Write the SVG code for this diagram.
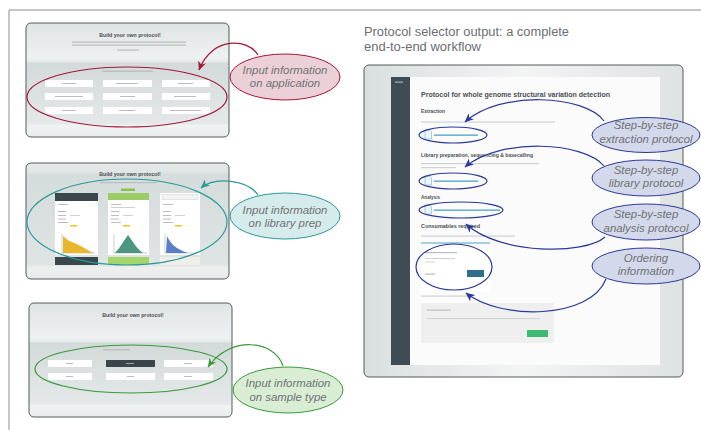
<svg xmlns="http://www.w3.org/2000/svg" width="701" height="430" viewBox="0 0 701 430">
<defs>
<style>
.frame{fill:none;stroke:#8a8c8e;stroke-width:1}
.shot{stroke:#555a5c;stroke-width:1}
.callout{font-family:"Liberation Sans",Arial,sans-serif;font-style:italic;font-size:11.4px;fill:#707275;text-anchor:middle}
.title{font-family:"Liberation Sans",Arial,sans-serif;font-size:12px;fill:#6d6e71}
.ui{font-family:"Liberation Sans",Arial,sans-serif;font-weight:bold;fill:#4a4f52}
.uic{font-family:"Liberation Sans",Arial,sans-serif;font-weight:bold;fill:#4a4f52;text-anchor:middle}
.btn{fill:#ffffff}
.bar{fill:#b9bdbf}
.lbar{fill:#cfd2d3}
.link{fill:#4aa3c8}
.icon{fill:#eef6fa;stroke:#7fbfdc;stroke-width:0.7}
.conn{fill:none;stroke-width:1.2}
.hl{fill:none;stroke-width:1.2}
</style>
<linearGradient id="bgA" x1="0" y1="0" x2="0" y2="1">
<stop offset="0" stop-color="#dfe4e4"/>
<stop offset="0.3" stop-color="#eef1f1"/>
<stop offset="0.34" stop-color="#e6eaea"/>
<stop offset="0.35" stop-color="#d3dada"/>
<stop offset="0.88" stop-color="#e4e8e8"/>
<stop offset="0.9" stop-color="#f1f3f3"/>
<stop offset="1" stop-color="#e9ecec"/>
</linearGradient>
<linearGradient id="bgB" x1="0" y1="0" x2="0" y2="1">
<stop offset="0" stop-color="#e6eaea"/>
<stop offset="0.08" stop-color="#dfe4e4"/>
<stop offset="0.1" stop-color="#d5dcdc"/>
<stop offset="0.88" stop-color="#dfe4e4"/>
<stop offset="0.9" stop-color="#eef0f0"/>
<stop offset="1" stop-color="#e8ebeb"/>
</linearGradient>
<linearGradient id="bgR" x1="0" y1="0" x2="1" y2="0">
<stop offset="0" stop-color="#d9dfdf"/>
<stop offset="0.5" stop-color="#f3f5f5"/>
<stop offset="1" stop-color="#dde2e2"/>
</linearGradient>
<marker id="mRed" markerUnits="userSpaceOnUse" markerWidth="9" markerHeight="8" refX="8.5" refY="4" orient="auto"><path d="M0,0 L9,4 L0,8 L2.5,4 Z" fill="#a4173c"/></marker>
<marker id="mTeal" markerUnits="userSpaceOnUse" markerWidth="9" markerHeight="8" refX="8.5" refY="4" orient="auto"><path d="M0,0 L9,4 L0,8 L2.5,4 Z" fill="#2a9a98"/></marker>
<marker id="mGreen" markerUnits="userSpaceOnUse" markerWidth="9" markerHeight="8" refX="8.5" refY="4" orient="auto"><path d="M0,0 L9,4 L0,8 L2.5,4 Z" fill="#3a9a3a"/></marker>
<marker id="mBlue" markerUnits="userSpaceOnUse" markerWidth="9" markerHeight="8" refX="8.5" refY="4" orient="auto"><path d="M0,0 L9,4 L0,8 L2.5,4 Z" fill="#2b3a9a"/></marker>
</defs>
<rect width="701" height="430" fill="#ffffff"/>
<path class="frame" d="M9,430 V10 H701"/>

<!-- Screenshot 1: application -->
<g id="shot-application">
<rect class="shot" x="26" y="23" width="203" height="114" rx="5" fill="url(#bgA)"/>
<text class="uic" x="130" y="37" font-size="5.2">Build your own protocol!</text>
<rect class="bar" x="72" y="41.5" width="114" height="1.2"/>
<rect class="bar" x="72" y="44.5" width="114" height="1.2"/>
<rect class="bar" x="117" y="49.5" width="22" height="1.2"/>
<rect class="bar" x="102" y="70.5" width="51" height="1.4"/>
<g>
<rect class="btn" x="45" y="80" width="48" height="7"/><rect class="btn" x="103" y="80" width="49" height="7"/><rect class="btn" x="162" y="80" width="48" height="7"/>
<rect class="btn" x="45" y="93" width="48" height="7"/><rect class="btn" x="103" y="93" width="49" height="7"/><rect class="btn" x="162" y="93" width="48" height="7"/>
<rect class="btn" x="45" y="107" width="48" height="7"/><rect class="btn" x="103" y="107" width="49" height="7"/><rect class="btn" x="162" y="107" width="48" height="7"/>
<rect class="bar" x="62" y="83" width="14" height="1"/><rect class="bar" x="116" y="83" width="22" height="1"/><rect class="bar" x="178" y="83" width="15" height="1"/>
<rect class="bar" x="55" y="96" width="28" height="1"/><rect class="bar" x="120" y="96" width="15" height="1"/><rect class="bar" x="174" y="96" width="22" height="1"/>
<rect class="bar" x="62" y="110" width="14" height="1"/><rect class="bar" x="119" y="110" width="16" height="1"/><rect class="bar" x="170" y="110" width="31" height="1"/>
</g>
</g>

<!-- Screenshot 2: library prep -->
<g id="shot-library">
<rect class="shot" x="26" y="163" width="203" height="116" rx="5" fill="url(#bgB)"/>
<text class="uic" x="130" y="176" font-size="5.2">Build your own protocol!</text>
<rect class="bar" x="100" y="182" width="57" height="1.2"/>
<rect x="121" y="188.5" width="14" height="2.5" fill="#8bc34a"/>
<rect x="55" y="193" width="43" height="62" fill="#ffffff"/>
<rect x="55" y="193" width="43" height="8" fill="#3c474c"/>
<rect x="108" y="193" width="41" height="62" fill="#ffffff"/>
<rect x="108" y="193" width="41" height="7" fill="#9ccc65"/>
<rect x="160" y="193" width="40" height="62" fill="#ffffff"/>
<rect x="162" y="194.5" width="36" height="5" fill="#f2f2f2" stroke="#d0d0d0" stroke-width="0.5"/>
<rect class="bar" x="58" y="204" width="10" height="1"/><rect class="bar" x="111" y="204" width="10" height="1"/><rect class="bar" x="163" y="204" width="10" height="1"/>
<rect class="lbar" x="111" y="207" width="24" height="1"/>
<rect class="bar" x="58" y="211" width="8" height="1"/><rect class="bar" x="111" y="211" width="8" height="1"/><rect class="bar" x="163" y="211" width="8" height="1"/>
<rect class="bar" x="58" y="215" width="8" height="1"/><rect class="lbar" x="70" y="215" width="10" height="1"/>
<rect class="bar" x="111" y="215" width="8" height="1"/><rect class="lbar" x="123" y="215" width="10" height="1"/>
<rect class="bar" x="163" y="215" width="8" height="1"/><rect class="lbar" x="175" y="215" width="10" height="1"/>
<rect class="bar" x="58" y="218.5" width="8" height="1"/><rect class="bar" x="111" y="218.5" width="8" height="1"/><rect class="bar" x="163" y="218.5" width="8" height="1"/>
<rect class="bar" x="58" y="222" width="10" height="1"/><rect class="bar" x="111" y="222" width="10" height="1"/><rect class="bar" x="163" y="222" width="10" height="1"/>
<rect x="70" y="225" width="7" height="1.5" fill="#f0c419"/><rect x="123" y="225" width="7" height="1.5" fill="#f0c419"/><rect x="175" y="225" width="7" height="1.5" fill="#f0c419"/>
<path d="M62,234 V253 H95" fill="none" stroke="#9a9a9a" stroke-width="0.5"/>
<path d="M63,253 L63,236 C66,238 68,241 72,242 C78,244 82,247 86,249 L93,253 Z" fill="#e8b72e"/>
<path d="M114,234 V253 H147" fill="none" stroke="#9a9a9a" stroke-width="0.5"/>
<path d="M115,253 C120,248 124,240 128,235 C132,240 136,248 143,253 Z" fill="#4e9682"/>
<path d="M165,234 V253 H197" fill="none" stroke="#9a9a9a" stroke-width="0.5"/>
<path d="M166,253 L167,236 C169,240 172,245 177,248 C181,250 184,252 188,253 Z" fill="#5a7fc2"/>
<rect x="55" y="257" width="43" height="8" fill="#3c474c"/>
<rect x="108" y="257" width="41" height="8" fill="#a5d46a"/>
<rect x="160" y="257" width="40" height="8" fill="#f1eeea"/>
</g>

<!-- Screenshot 3: sample type -->
<g id="shot-sample">
<rect class="shot" x="29" y="303" width="203" height="114" rx="5" fill="url(#bgA)"/>
<text class="uic" x="133" y="317" font-size="5.2">Build your own protocol!</text>
<rect class="bar" x="103" y="349" width="27" height="1.4"/>
<rect class="btn" x="48" y="360" width="44" height="7"/><rect x="106" y="360" width="49" height="7" fill="#3b464b"/><rect class="btn" x="164" y="360" width="49" height="7"/>
<rect class="btn" x="48" y="373" width="44" height="7"/><rect class="btn" x="106" y="373" width="49" height="7"/><rect class="btn" x="164" y="373" width="49" height="7"/>
<rect class="bar" x="66" y="363" width="7" height="1"/><rect x="126" y="363" width="8" height="1" fill="#9aa3a6"/><rect class="bar" x="184" y="363" width="8" height="1"/>
<rect class="bar" x="66" y="376" width="7" height="1"/><rect class="bar" x="127" y="376" width="7" height="1"/><rect class="bar" x="184" y="376" width="8" height="1"/>
</g>

<!-- Right title -->
<g id="output-title">
<text class="title" x="364" y="36" textLength="205" lengthAdjust="spacingAndGlyphs">Protocol selector output: a complete</text>
<text class="title" x="364" y="51" textLength="117" lengthAdjust="spacingAndGlyphs">end-to-end workflow</text>
</g>

<!-- Right screenshot -->
<g id="shot-output">
<rect class="shot" x="364" y="65" width="319" height="312" rx="5" fill="url(#bgR)"/>
<rect x="391" y="77" width="19" height="288" fill="#3e4c54"/>
<rect x="395" y="81.5" width="8" height="1.2" fill="#aab4b8"/>
<rect x="410" y="77" width="250" height="288" fill="#fbfbfb"/>
<text class="ui" x="421" y="97" font-size="7.2" textLength="189" lengthAdjust="spacingAndGlyphs">Protocol for whole genome structural variation detection</text>
<text class="ui" x="421" y="113" font-size="5" textLength="24" lengthAdjust="spacingAndGlyphs">Extraction</text>
<rect class="lbar" x="421" y="121.5" width="134" height="1.2"/>
<path class="icon" d="M425,130 h4.5 l2,2 v7 h-6.5 z"/>
<rect class="link" x="434" y="134.5" width="44" height="1.3"/>
<text class="ui" x="421" y="157" font-size="5" textLength="112" lengthAdjust="spacingAndGlyphs">Library preparation, sequencing &amp; basecalling</text>
<rect class="lbar" x="421" y="163" width="118" height="1.2"/>
<rect class="lbar" x="421" y="167" width="35" height="1.2"/>
<path class="icon" d="M425,176 h4.5 l2,2 v7 h-6.5 z"/>
<rect class="link" x="434" y="180.5" width="44" height="1.3"/>
<text class="ui" x="421" y="199" font-size="5" textLength="19" lengthAdjust="spacingAndGlyphs">Analysis</text>
<path class="icon" d="M425,205 h4.5 l2,2 v7 h-6.5 z"/>
<rect class="link" x="434" y="209.5" width="66" height="1.3"/>
<text class="ui" x="421" y="228" font-size="5" textLength="59" lengthAdjust="spacingAndGlyphs">Consumables required</text>
<rect class="lbar" x="421" y="235.5" width="94" height="1.2"/>
<rect x="421" y="242.5" width="69" height="1" fill="#4aa3c8"/>
<rect x="421" y="248" width="70" height="44" fill="#ffffff"/>
<rect class="bar" x="425" y="252" width="32" height="1.2"/>
<rect class="lbar" x="425" y="258" width="30" height="1"/>
<rect class="lbar" x="425" y="261.5" width="10" height="1"/>
<rect class="bar" x="425" y="273.5" width="10" height="1.2"/>
<rect x="467" y="270" width="17" height="7" fill="#2e6f8e"/>
<rect class="lbar" x="421" y="295.5" width="49" height="1.2"/>
<rect x="421" y="303" width="133" height="40" fill="#efefef"/>
<rect class="bar" x="427" y="309.5" width="24" height="1.2"/>
<rect class="lbar" x="427" y="318" width="113" height="1.1"/>
<rect x="527" y="330" width="21" height="7" fill="#3fba74"/>
</g>

<!-- Highlight ellipses on screenshots -->
<g id="highlights">
<ellipse class="hl" cx="127" cy="97" rx="100" ry="30" stroke="#a4173c"/>
<ellipse class="hl" cx="127" cy="222" rx="100" ry="43" stroke="#2a9a98"/>
<ellipse class="hl" cx="131" cy="369" rx="96" ry="24" stroke="#3a9a3a"/>
<ellipse class="hl" cx="453" cy="135" rx="34" ry="8" stroke="#2b3a9a"/>
<ellipse class="hl" cx="453" cy="181" rx="34" ry="8" stroke="#2b3a9a"/>
<ellipse class="hl" cx="461" cy="210" rx="42" ry="8" stroke="#2b3a9a"/>
<ellipse class="hl" cx="454" cy="267" rx="38" ry="23" stroke="#2b3a9a"/>
</g>

<!-- Connectors -->
<g id="connectors">
<path class="conn" stroke="#a4173c" d="M258,55 C248,38 212,36 199,70" marker-end="url(#mRed)"/>
<path class="conn" stroke="#2a9a98" d="M258,195 C248,180 215,176 201,188" marker-end="url(#mTeal)"/>
<path class="conn" stroke="#3a9a3a" d="M283,366 C275,340 230,335 208,367" marker-end="url(#mGreen)"/>
<path class="conn" stroke="#2b3a9a" d="M604,121 C585,95 500,90 465,122" marker-end="url(#mBlue)"/>
<path class="conn" stroke="#2b3a9a" d="M604,166 C585,142 500,137 465,167" marker-end="url(#mBlue)"/>
<path class="conn" stroke="#2b3a9a" d="M605,237 C585,255 500,255 466,224" marker-end="url(#mBlue)"/>
<path class="conn" stroke="#2b3a9a" d="M606,279 C590,320 500,320 466,293" marker-end="url(#mBlue)"/>
</g>

<!-- Callout nodes -->
<g id="callout-application">
<ellipse cx="285" cy="77" rx="55" ry="23" fill="#ebd0d7" stroke="#a4173c" stroke-width="1"/>
<text class="callout" x="285" y="74">Input information</text>
<text class="callout" x="285" y="87">on application</text>
</g>
<g id="callout-library">
<ellipse cx="285" cy="216" rx="55" ry="23" fill="#d6ebeb" stroke="#2a9a98" stroke-width="1"/>
<text class="callout" x="285" y="214">Input information</text>
<text class="callout" x="285" y="227">on library prep</text>
</g>
<g id="callout-sample">
<ellipse cx="288" cy="390" rx="55" ry="23" fill="#d9edd5" stroke="#3a9a3a" stroke-width="1"/>
<text class="callout" x="288" y="387">Input information</text>
<text class="callout" x="288" y="401">on sample type</text>
</g>
<g id="callout-extraction">
<ellipse cx="646" cy="135" rx="54" ry="17.5" fill="#d3d8ea" stroke="#2b3a9a" stroke-width="1"/>
<text class="callout" x="646" y="129">Step-by-step</text>
<text class="callout" x="646" y="143">extraction protocol</text>
</g>
<g id="callout-libprotocol">
<ellipse cx="646" cy="178" rx="54" ry="18" fill="#d3d8ea" stroke="#2b3a9a" stroke-width="1"/>
<text class="callout" x="646" y="174">Step-by-step</text>
<text class="callout" x="646" y="187">library protocol</text>
</g>
<g id="callout-analysis">
<ellipse cx="646" cy="222" rx="54" ry="18" fill="#d3d8ea" stroke="#2b3a9a" stroke-width="1"/>
<text class="callout" x="646" y="218">Step-by-step</text>
<text class="callout" x="646" y="232">analysis protocol</text>
</g>
<g id="callout-ordering">
<ellipse cx="646" cy="266" rx="54" ry="18" fill="#d3d8ea" stroke="#2b3a9a" stroke-width="1"/>
<text class="callout" x="646" y="262">Ordering</text>
<text class="callout" x="646" y="275">information</text>
</g>
</svg>
